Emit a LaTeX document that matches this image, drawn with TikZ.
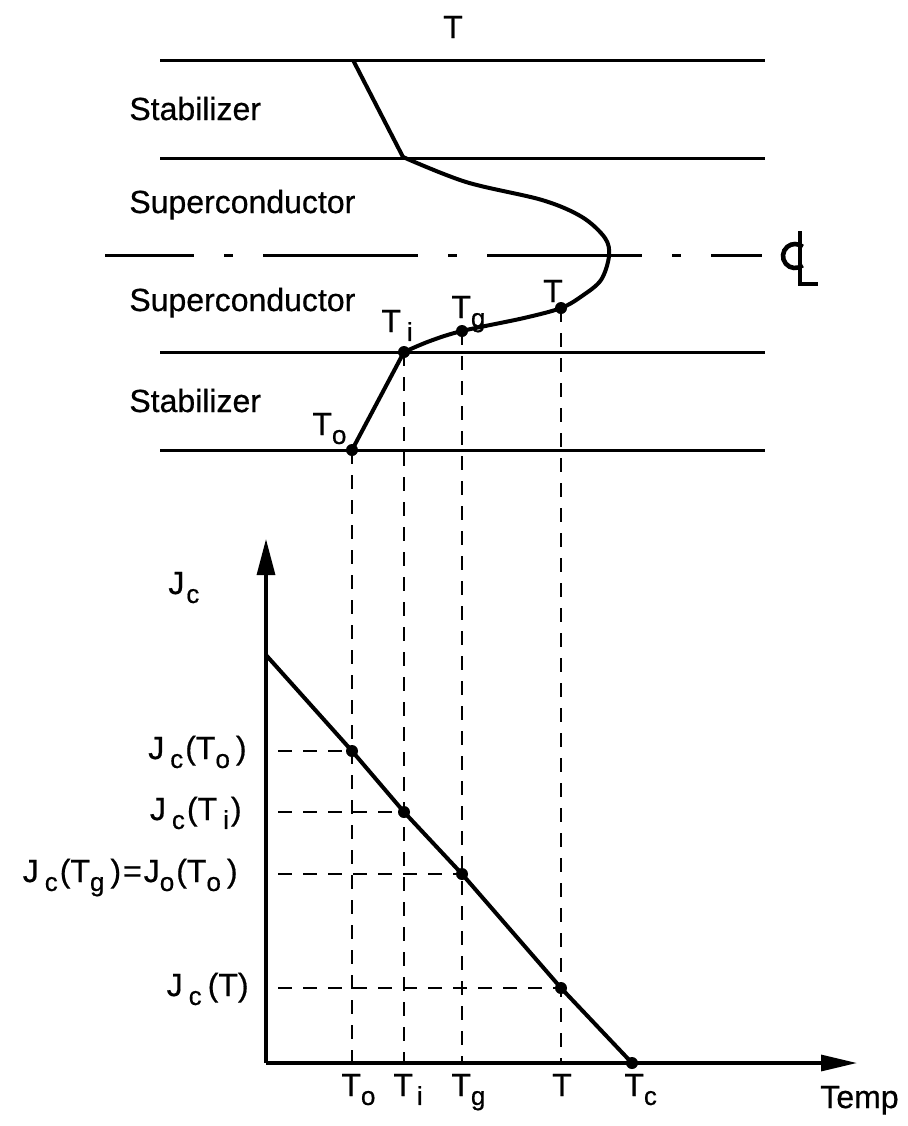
\documentclass[tikz,border=0pt]{standalone}
\usepackage{fontspec}
\setmainfont{Liberation Sans}[FakeBold=0.6]
\usetikzlibrary{arrows.meta}
\newcommand{\lsub}[1]{\raisebox{-0.28em}{\fontsize{13}{13}\selectfont #1}}
\begin{document}
\begin{tikzpicture}[x=0.5pt,y=-0.5pt,
  font=\fontsize{16}{19}\selectfont,
  layer/.style={line width=1.5pt},
  cline/.style={line width=2pt, line join=round},
  guide/.style={line width=1.1pt, dash pattern=on 7pt off 5.5pt},
  axisline/.style={line width=1.6pt},
  centreline/.style={line width=1.5pt, dash pattern=on 77.5pt off 15pt on 4.5pt off 15pt, dash phase=33pt},
  lbl/.style={inner sep=0pt}]
\useasboundingbox (0,0) rectangle (907,1126);
\fill[white] (0,0) rectangle (907,1126);

% ---------- upper part: layers ----------
\draw[layer] (160,60) -- (765,60);
\draw[layer] (160,158) -- (765,158);
\draw[layer] (160,352) -- (765,352);
\draw[layer] (160,450) -- (765,450);
\draw[centreline] (105,255) -- (762,255);

% centre-line symbol
\coordinate (clc) at (795,256);
\draw[line width=2.3pt] (clc) ++(50:12) arc[start angle=50, end angle=310, radius=12];
\draw[line width=2.4pt] (800,231) -- (800,284) -- (818,284);

\node[lbl, anchor=base] (lT) at (453,38) {T};
\node[lbl, anchor=base west] (stab1) at (129,120) {Stabilizer};
\node[lbl, anchor=base west] (sup1) at (129,213) {Superconductor};
\node[lbl, anchor=base west] (sup2) at (129,311) {Superconductor};
\node[lbl, anchor=base west] (stab2) at (129,412) {Stabilizer};

% temperature profile
\coordinate (top) at (353,60);
\coordinate (s1) at (403,157);
\coordinate (To) at (352,450);
\coordinate (Ti) at (404,352);
\coordinate (Tg) at (462,331);
\coordinate (Tt) at (561,308);
\draw[cline] (top) -- (s1);
\draw[cline] plot[smooth, tension=0.55] coordinates {(s1) (466,182) (542,200) (582,217) (605,238) (609,256) (601,280) (582,296) (Tt) (524,318) (Tg) (430,341) (Ti)};
\draw[cline] (Ti) -- (To);
\foreach \p in {To,Ti,Tg,Tt} \fill (\p) circle (3pt);

\node[lbl, anchor=base west] (lTo) at (312,435) {T\lsub{o}};
\node[lbl, anchor=base west] (lTi) at (381,332) {T\kern3pt\lsub{i}};
\node[lbl, anchor=base west] (lTg) at (451,318) {T\lsub{g}};
\node[lbl, anchor=base] (lTt) at (553,302) {T};

% ---------- lower part: Jc(T) ----------
\coordinate (O) at (266,1063);
\coordinate (ytip) at (266,539);
\coordinate (xtip) at (857,1063);
\draw[axisline, -{Triangle[length=18pt,width=9pt]}] (O) -- (ytip);
\draw[axisline, -{Triangle[length=18pt,width=8pt]}] (O) -- (xtip);

\coordinate (J0) at (266,655);
\coordinate (Jo) at (352,751);
\coordinate (Ji) at (404,812);
\coordinate (Jg) at (462,874);
\coordinate (Jt) at (561,988);
\coordinate (Tc) at (632,1063);

% guide lines
\draw[guide] (To) -- (To |- O);
\draw[guide] (Ti) -- (Ti |- O);
\draw[guide] (Tg) -- (Tg |- O);
\draw[guide] (Tt) -- (Tt |- O);
\draw[guide] ([xshift=6pt]O |- Jo) -- (Jo);
\draw[guide] ([xshift=6pt]O |- Ji) -- (Ji);
\draw[guide] ([xshift=6pt]O |- Jg) -- (Jg);
\draw[guide] ([xshift=6pt]O |- Jt) -- (Jt);

\draw[cline] (J0) -- (Jo) -- (Ji) -- (Jg) -- (Jt) -- (Tc);
\foreach \p in {Jo,Ji,Jg,Jt,Tc} \fill (\p) circle (3pt);

\node[lbl, anchor=base west] (lJc) at (168,594) {J\kern1pt\lsub{c}};
\node[lbl, anchor=base east] (lJo) at (247,759) {J\kern3pt\lsub{c}\kern1pt(T\lsub{o}\kern3pt)};
\node[lbl, anchor=base east] (lJi) at (242,820) {J\kern3pt\lsub{c}\kern1pt(T\kern3pt\lsub{i}\kern1pt)};
\node[lbl, anchor=base east] (lJg) at (238,882) {J\kern3pt\lsub{c}\kern1pt(T\lsub{g}\kern3pt)\kern1pt=\kern1pt J\lsub{o}\kern1pt(T\lsub{o}\kern3pt)};
\node[lbl, anchor=base east] (lJt) at (249,996) {J\kern3pt\lsub{c}\kern3pt(T)};

\node[lbl, anchor=base west] (bTo) at (341,1096) {T\lsub{o}};
\node[lbl, anchor=base west] (bTi) at (393,1096) {T\kern2pt\lsub{i}};
\node[lbl, anchor=base west] (bTg) at (451,1096) {T\lsub{g}};
\node[lbl, anchor=base] (bTt) at (562,1096) {T};
\node[lbl, anchor=base west] (bTc) at (624,1096) {T\lsub{c}};
\node[lbl, anchor=base east] (lTemp) at (899,1108) {Temp};
\end{tikzpicture}
\end{document}
